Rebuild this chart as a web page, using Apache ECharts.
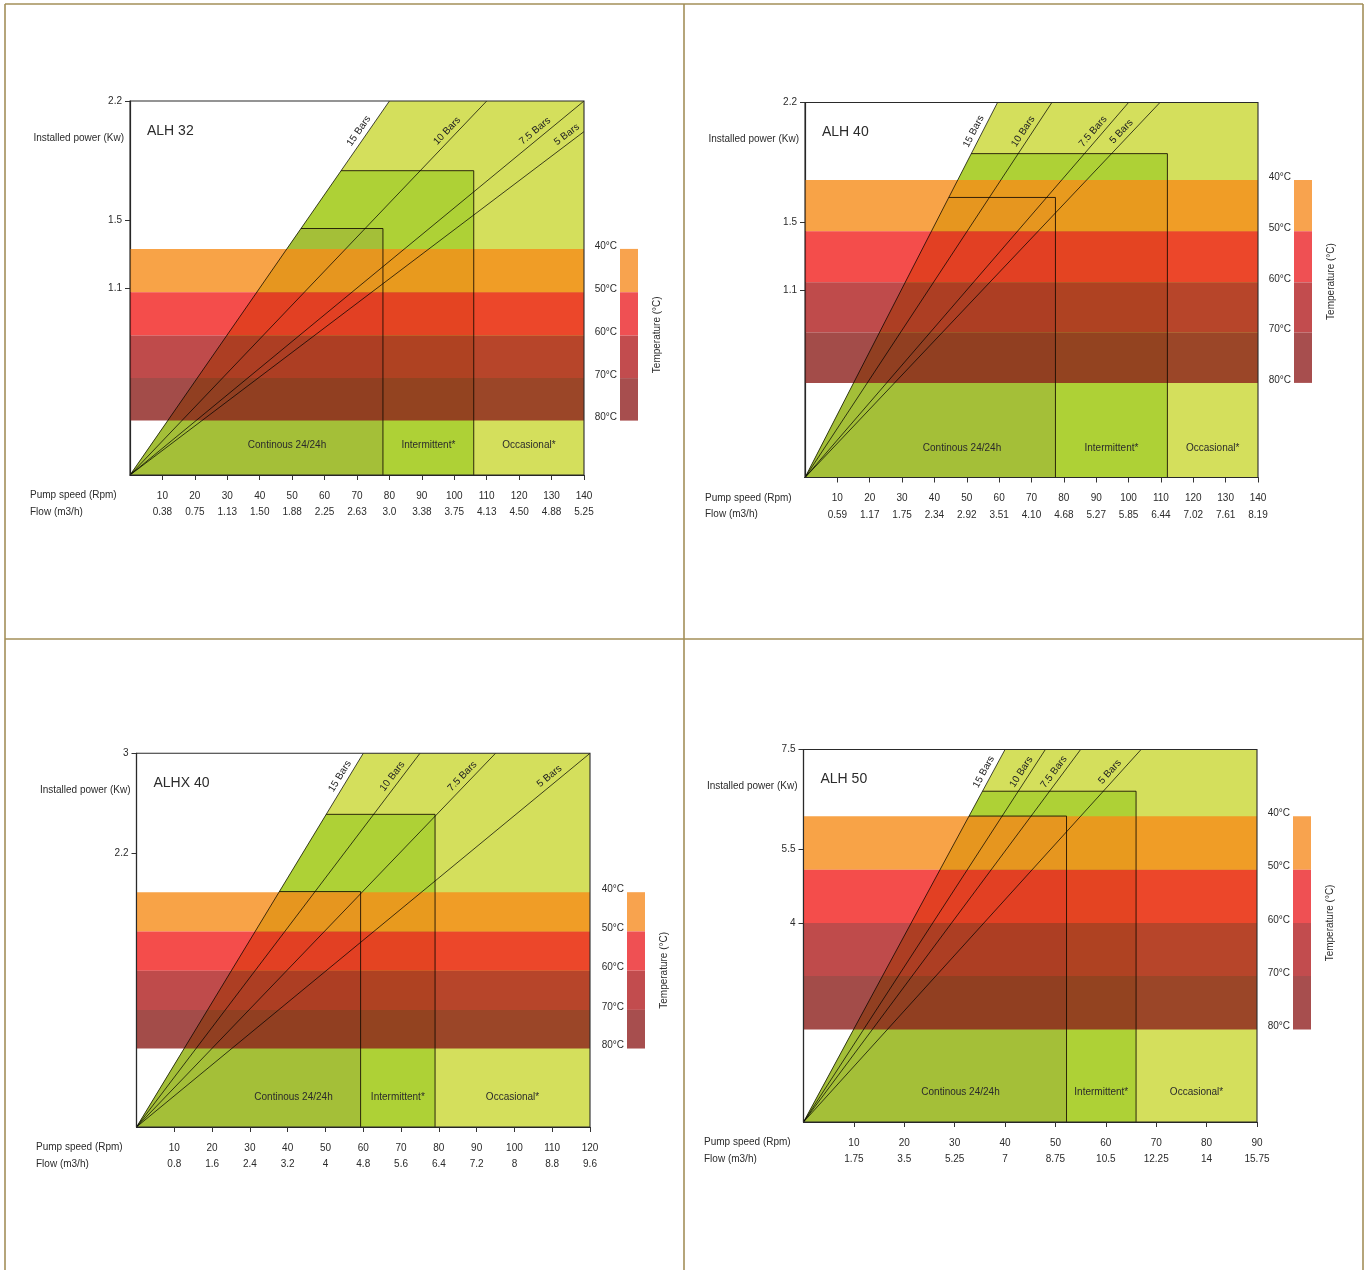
<!DOCTYPE html>
<html><head><meta charset="utf-8">
<script src="https://cdn.jsdelivr.net/npm/echarts@6/dist/echarts.min.js"></script>
<style>html,body{margin:0;padding:0;background:#fff}#c{width:1370px;height:1270px}</style>
</head><body><div id="c"></div>
<script>
// ---------------- DATA ----------------
const panelTitles = ['ALH 32', 'ALH 40', 'ALHX 40', 'ALH 50'];
const barNames = ['15 Bars', '10 Bars', '7.5 Bars', '5 Bars'];
const zoneNames = ['Continous 24/24h', 'Intermittent*', 'Occasional*'];
const temperatureLabels = ['40°C', '50°C', '60°C', '70°C', '80°C'];

// ALH 32
const alh32Rpm = [10,20,30,40,50,60,70,80,90,100,110,120,130,140];
const alh32Flow = ['0.38','0.75','1.13','1.50','1.88','2.25','2.63','3.0','3.38','3.75','4.13','4.50','4.88','5.25'];
const alh32PowerTicks = [1.1, 1.5, 2.2];
const alh32PowerLabels = ['1.1', '1.5', '2.2'];
const alh32Range = [140, 2.2];
const alh32BarEnds = [[80, 2.2], [110, 2.2], [140, 2.2], [140, 2.02]];
const alh32Continuous = [78, 1.45];
const alh32Intermittent = [106, 1.79];
const alh32TempEdges = [1.33, 1.075, 0.82, 0.57, 0.32];

// ALH 40
const alh40Rpm = [10,20,30,40,50,60,70,80,90,100,110,120,130,140];
const alh40Flow = ['0.59','1.17','1.75','2.34','2.92','3.51','4.10','4.68','5.27','5.85','6.44','7.02','7.61','8.19'];
const alh40PowerTicks = [1.1, 1.5, 2.2];
const alh40PowerLabels = ['1.1', '1.5', '2.2'];
const alh40Range = [140, 2.2];
const alh40BarEnds = [[59.5, 2.2], [76.3, 2.2], [100, 2.2], [109.7, 2.2]];
const alh40Continuous = [77.4, 1.643];
const alh40Intermittent = [112, 1.90];
const alh40TempEdges = [1.745, 1.445, 1.145, 0.85, 0.555];

// ALHX 40
const alhx40Rpm = [10,20,30,40,50,60,70,80,90,100,110,120];
const alhx40Flow = ['0.8','1.6','2.4','3.2','4','4.8','5.6','6.4','7.2','8','8.8','9.6'];
const alhx40PowerTicks = [2.2, 3];
const alhx40PowerLabels = ['2.2', '3'];
const alhx40Range = [120, 3];
const alhx40BarEnds = [[60, 3], [75, 3], [95, 3], [120, 3]];
const alhx40Continuous = [59.3, 1.89];
const alhx40Intermittent = [79, 2.51];
const alhx40TempEdges = [1.885, 1.57, 1.255, 0.94, 0.63];

// ALH 50
const alh50Rpm = [10,20,30,40,50,60,70,80,90];
const alh50Flow = ['1.75','3.5','5.25','7','8.75','10.5','12.25','14','15.75'];
const alh50PowerTicks = [4, 5.5, 7.5];
const alh50PowerLabels = ['4', '5.5', '7.5'];
const alh50Range = [90, 7.5];
const alh50BarEnds = [[40, 7.5], [48, 7.5], [55, 7.5], [67, 7.5]];
const alh50Continuous = [52.2, 6.16];
const alh50Intermittent = [66, 6.66];
const alh50TempEdges = [6.155, 5.08, 4.005, 2.94, 1.86];

// ---------------- LAYOUT / STYLE ----------------
const FONT = 'Liberation Sans, Arial, Helvetica, sans-serif';
const TXT = '#2b2b2b';
const layouts = [
  {left:130, top:101, width:454, height:374, legLeft:620, labelDrop:30, rowX:30},
  {left:805, top:102.5, width:453, height:375, legLeft:1294, labelDrop:29, rowX:705},
  {left:136.5, top:753.3, width:453.5, height:373.7, legLeft:627, labelDrop:23, rowX:36},
  {left:803.5, top:749.5, width:453.5, height:372.5, legLeft:1293, labelDrop:22.5, rowX:704}
];
const zoneFills = ['#d4df5c', '#aed136', '#a4bf38']; // occasional, intermittent, continuous
const bandFills = ['rgba(246,140,25,0.8)', 'rgba(241,33,30,0.8)', 'rgba(175,30,30,0.8)', 'rgba(140,31,28,0.8)'];
const legendFills = ['#f8a34e', '#ef5053', '#c24c4e', '#a74e4e'];

const panels = [
  {title:panelTitles[0], rpm:alh32Rpm, flow:alh32Flow, pTicks:alh32PowerTicks, pLabels:alh32PowerLabels, range:alh32Range, bars:alh32BarEnds, cont:alh32Continuous, inter:alh32Intermittent, edges:alh32TempEdges},
  {title:panelTitles[1], rpm:alh40Rpm, flow:alh40Flow, pTicks:alh40PowerTicks, pLabels:alh40PowerLabels, range:alh40Range, bars:alh40BarEnds, cont:alh40Continuous, inter:alh40Intermittent, edges:alh40TempEdges},
  {title:panelTitles[2], rpm:alhx40Rpm, flow:alhx40Flow, pTicks:alhx40PowerTicks, pLabels:alhx40PowerLabels, range:alhx40Range, bars:alhx40BarEnds, cont:alhx40Continuous, inter:alhx40Intermittent, edges:alhx40TempEdges},
  {title:panelTitles[3], rpm:alh50Rpm, flow:alh50Flow, pTicks:alh50PowerTicks, pLabels:alh50PowerLabels, range:alh50Range, bars:alh50BarEnds, cont:alh50Continuous, inter:alh50Intermittent, edges:alh50TempEdges}
];

const grids = [], xAxes = [], yAxes = [], series = [], graphics = [];

panels.forEach((p, i) => {
  const L = layouts[i];
  const xMax = p.range[0], yMax = p.range[1];
  const s15 = p.bars[0];
  const lineX = y => s15[0] * y / s15[1];

  grids.push({left:L.left, top:L.top, width:L.width, height:L.height, show:false, containLabel:false, outerBoundsMode:'none'});
  grids.push({left:L.legLeft, top:L.top, width:18, height:L.height, show:false, containLabel:false, outerBoundsMode:'none'});
  const gMain = 2*i, gLeg = 2*i + 1;

  xAxes.push({gridIndex:gMain, type:'value', min:0, max:xMax,
    axisLine:{show:true, onZero:false, lineStyle:{color:'#222', width:1.2}},
    axisTick:{show:true, customValues:p.rpm, length:5, lineStyle:{color:'#333', width:1}},
    axisLabel:{customValues:p.rpm, margin:12.5, lineHeight:16.5, fontSize:10, color:TXT, fontFamily:FONT,
      formatter: v => { const k = p.rpm.indexOf(v); return k < 0 ? '' : p.rpm[k] + '\n' + p.flow[k]; }},
    splitLine:{show:false}});
  yAxes.push({gridIndex:gMain, type:'value', min:0, max:yMax,
    axisLine:{show:true, onZero:false, lineStyle:{color:'#222', width:1.2}},
    axisTick:{show:true, customValues:p.pTicks, length:5, lineStyle:{color:'#333'}},
    axisLabel:{customValues:p.pTicks, margin:8, fontSize:10, color:TXT, fontFamily:FONT,
      formatter: v => { const k = p.pTicks.indexOf(v); return k < 0 ? '' : p.pLabels[k]; }},
    splitLine:{show:false}});
  xAxes.push({gridIndex:gLeg, type:'value', min:0, max:1, show:false});
  yAxes.push({gridIndex:gLeg, type:'value', min:0, max:yMax,
    axisLine:{show:false}, axisTick:{show:false}, splitLine:{show:false},
    axisLabel:{customValues:p.edges, margin:3, fontSize:10, color:TXT, fontFamily:FONT, verticalAlign:'bottom', lineHeight:6,
      formatter: v => { const k = p.edges.indexOf(v); return k < 0 ? '' : temperatureLabels[k]; }}});

  const axMain = {xAxisIndex:2*i, yAxisIndex:2*i};
  const axLeg = {xAxisIndex:2*i+1, yAxisIndex:2*i+1};

  // operating zones
  series.push(Object.assign({type:'custom', silent:true, z:1,
    data:[[xMax, yMax, 0], [p.inter[0], p.inter[1], 1], [p.cont[0], p.cont[1], 2]],
    renderItem:(params, api) => {
      const xe = api.value(0), yt = api.value(1), k = api.value(2);
      const pts = [[0,0],[lineX(yt), yt],[xe, yt],[xe, 0]].map(v => api.coord(v));
      return {type:'polygon', shape:{points:pts}, style:{fill:zoneFills[k]}};
    }}, axMain));

  // temperature bands
  const bandData = [];
  for (let j = 0; j < 4; j++) bandData.push([p.edges[j], p.edges[j+1], j]);
  series.push(Object.assign({type:'custom', silent:true, z:2, data:bandData,
    renderItem:(params, api) => {
      const a = api.coord([0, api.value(0)]), b = api.coord([xMax, api.value(1)]);
      return {type:'rect', shape:{x:a[0], y:a[1], width:b[0]-a[0], height:b[1]-a[1]}, style:{fill:bandFills[api.value(2)]}};
    }}, axMain));

  // zone outlines
  series.push(Object.assign({type:'custom', silent:true, z:3,
    data:[[p.inter[0], p.inter[1]], [p.cont[0], p.cont[1]]],
    renderItem:(params, api) => {
      const xe = api.value(0), yt = api.value(1);
      const pts = [[lineX(yt), yt],[xe, yt],[xe, 0]].map(v => api.coord(v));
      return {type:'polyline', shape:{points:pts}, style:{stroke:'rgba(20,10,0,0.85)', lineWidth:1, fill:null}};
    }}, axMain));

  // pressure lines + labels
  series.push(Object.assign({type:'custom', silent:true, z:4, data:p.bars,
    renderItem:(params, api) => {
      const end = [api.value(0), api.value(1)];
      const p0 = api.coord([0,0]), p1 = api.coord(end);
      const top = api.coord([0, yMax])[1];
      const dx = p1[0]-p0[0], dy = p0[1]-p1[1];
      const th = Math.atan2(dy, dx);
      const yc = Math.max(top + L.labelDrop, p1[1] + 3);
      const xl = p0[0] + dx*(p0[1]-yc)/dy;
      const cx = xl - 8/Math.sin(th);
      return {type:'group', children:[
        {type:'line', shape:{x1:p0[0], y1:p0[1], x2:p1[0], y2:p1[1]}, style:{stroke:'rgba(0,0,0,0.9)', lineWidth:0.8}},
        {type:'text', x:cx, y:yc, rotation:th, style:{text:barNames[params.dataIndex], align:'center', verticalAlign:'middle', fontSize:10, fill:'#222', fontFamily:FONT}}
      ]};
    }}, axMain));

  // plot frame
  series.push(Object.assign({type:'custom', silent:true, z:5, data:[[0, 0, xMax, yMax]],
    renderItem:(params, api) => {
      const a = api.coord([api.value(0), api.value(3)]), b = api.coord([api.value(2), api.value(1)]);
      return {type:'rect', shape:{x:a[0], y:a[1], width:b[0]-a[0], height:b[1]-a[1]}, style:{stroke:'#2a2a2a', lineWidth:1.1, fill:null}};
    }}, axMain));

  // zone labels
  series.push(Object.assign({type:'custom', silent:true, z:6, data:[0, 1, 2],
    renderItem:(params, api) => {
      const k = params.dataIndex;
      const o = api.coord([0, 0]);
      const xc = api.coord([p.cont[0], 0])[0], xi = api.coord([p.inter[0], 0])[0], xm = api.coord([xMax, 0])[0];
      const cx = k === 0 ? o[0] + 157 : (k === 1 ? (xc + xi)/2 : (xi + xm)/2);
      return {type:'text', x:cx, y:o[1] - 29.5, style:{text:zoneNames[k], align:'center', verticalAlign:'middle', fontSize:10, fill:TXT, fontFamily:FONT}};
    }}, axMain));

  // temperature legend bar
  series.push(Object.assign({type:'custom', silent:true, z:2, data:bandData,
    renderItem:(params, api) => {
      const a = api.coord([0, api.value(0)]), b = api.coord([1, api.value(1)]);
      return {type:'rect', shape:{x:a[0], y:a[1], width:b[0]-a[0], height:b[1]-a[1]}, style:{fill:legendFills[api.value(2)]}};
    }}, axLeg));
  series.push(Object.assign({type:'custom', silent:true, z:2, data:[[1, (p.edges[0] + p.edges[4]) / 2]],
    renderItem:(params, api) => {
      const c = api.coord([api.value(0), api.value(1)]);
      return {type:'text', x:c[0] + 19, y:c[1], rotation:Math.PI/2, style:{text:'Temperature (°C)', align:'center', verticalAlign:'middle', fontSize:10, fill:TXT, fontFamily:FONT}};
    }}, axLeg));

  // texts
  const bottom = L.top + L.height;
  graphics.push({type:'text', x:L.left + 17, y:L.top + 30, style:{text:p.title, fontSize:14, fill:TXT, fontFamily:FONT, verticalAlign:'middle'}});
  graphics.push({type:'text', x:L.left - 6, y:L.top + 37, style:{text:'Installed power (Kw)', fontSize:10, fill:TXT, fontFamily:FONT, align:'right', verticalAlign:'middle'}});
  graphics.push({type:'text', x:L.rowX, y:bottom + 20.5, style:{text:'Pump speed (Rpm)', fontSize:10, fill:TXT, fontFamily:FONT, verticalAlign:'middle'}});
  graphics.push({type:'text', x:L.rowX, y:bottom + 37, style:{text:'Flow (m3/h)', fontSize:10, fill:TXT, fontFamily:FONT, verticalAlign:'middle'}});
});

// page frame
const frameStyle = {stroke:'#a38f59', lineWidth:1.6};
[[5,4,1363,4],[5,4,5,1270],[1363,4,1363,1270],[684,4,684,1270],[5,639,1363,639]].forEach(s => {
  graphics.push({type:'line', shape:{x1:s[0], y1:s[1], x2:s[2], y2:s[3]}, style:frameStyle, z:10});
});

const chart = echarts.init(document.getElementById('c'));
chart.setOption({
  animation:false,
  backgroundColor:'#fff',
  textStyle:{fontFamily:FONT},
  grid:grids, xAxis:xAxes, yAxis:yAxes, series:series, graphic:graphics
});
</script></body></html>
